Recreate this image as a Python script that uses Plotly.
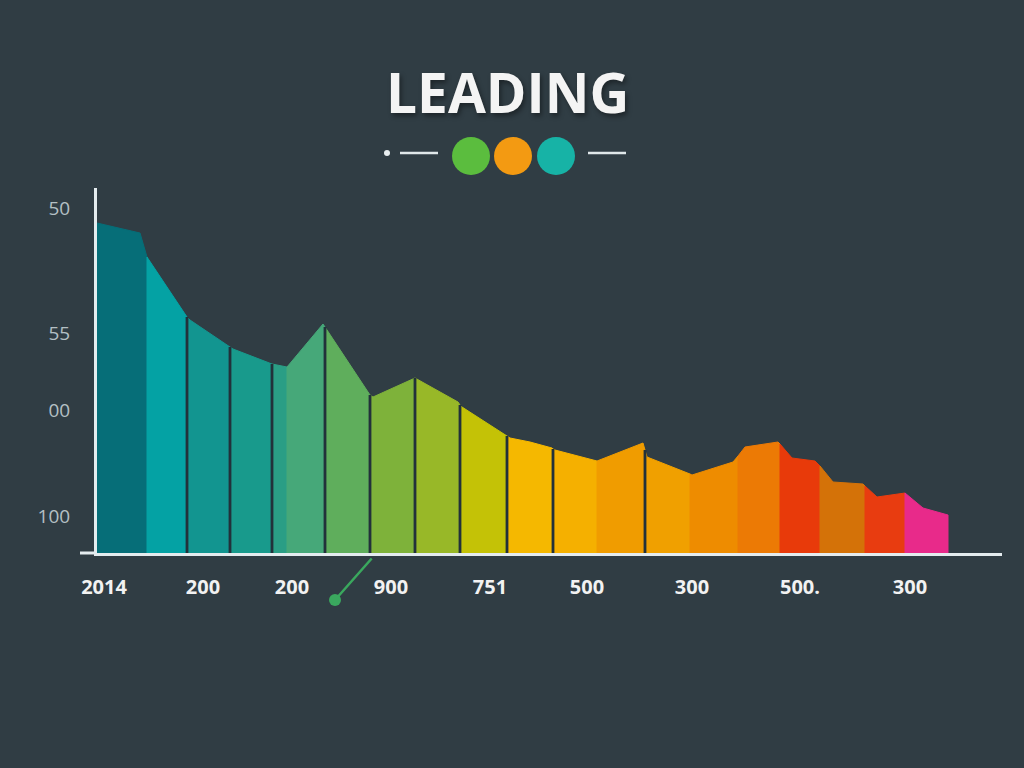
import plotly.graph_objects as go

# ---- data ----
PROFILE_X = [0, 43, 50, 90, 93, 131, 133, 136, 175, 190, 226, 228, 230, 273, 276, 318,
             361, 363, 365, 408, 410, 413, 433, 455, 456, 458, 500, 546, 548, 550, 593,
             595, 636, 641, 648, 681, 683, 695, 718, 723, 736, 766, 768, 780, 808, 826, 851]
PROFILE_Y = [330, 320, 296, 236, 233, 208, 206, 204, 189, 186, 229, 226, 223, 158, 156, 175,
             151, 148, 146, 118, 117, 115, 111, 105, 104, 103, 92, 110, 103, 96, 79,
             78, 91, 97, 106, 111, 109, 95, 92, 87, 71, 69, 67, 56, 60, 45, 38]

SEGMENT_EDGES = [0, 50, 90, 133, 175, 190, 228, 273, 318, 363, 410, 456, 500, 548,
                 593, 641, 683, 723, 768, 808, 851]
SEGMENT_COLORS = ["#066e78", "#04a2a4", "#129590", "#189a8c", "#2a9e85", "#46a879",
                  "#5fae5c", "#7eb23a", "#98b828", "#c4c206", "#f5b800", "#f5b000",
                  "#f09c00", "#f0a000", "#ee8c00", "#ec7a05", "#e83a0a", "#d47208",
                  "#e83c10", "#e82a8a"]
SEPARATOR_EDGES = [90, 133, 175, 228, 273, 318, 363, 410, 456, 548]

X_TICK_POS = [7, 106, 195, 294, 393, 490, 595, 703, 813]
X_TICK_TEXT = ["2014", "200", "200", "900", "751", "500", "300", "500.", "300"]
Y_TICK_POS = [345, 220, 143, 37]
Y_TICK_TEXT = ["50", "55", "00", "100"]

TITLE = "LEADING"
DOT_COLORS = ["#5bbd3e", "#f39a12", "#17b3a6"]
POINTER_X = 238

BG = "#303d44"
AXIS_COLOR = "#e4ecef"

fig = go.Figure()

# coloured area segments
for i, color in enumerate(SEGMENT_COLORS):
    a, b = SEGMENT_EDGES[i], SEGMENT_EDGES[i + 1]
    pts = [(x, y) for x, y in zip(PROFILE_X, PROFILE_Y) if a <= x <= b]
    xs = [a] + [p[0] for p in pts] + [b]
    ys = [0] + [p[1] for p in pts] + [0]
    fig.add_trace(go.Scatter(x=xs, y=ys, mode="lines", fill="toself",
                             fillcolor=color, line=dict(color=color, width=1),
                             hoverinfo="skip", showlegend=False))

# dark separators between some segments
for e in SEPARATOR_EDGES:
    yv = PROFILE_Y[PROFILE_X.index(e)]
    fig.add_trace(go.Scatter(x=[e, e], y=[0, yv], mode="lines",
                             line=dict(color="#22313a", width=2.8),
                             hoverinfo="skip", showlegend=False))

W, H = 1024, 768
ML, MR, MT, MB = 97, 22, 188, 215
PW, PH = W - ML - MR, H - MT - MB


def px(xp):
    return (xp - ML) / PW


def py(yp):
    return (H - MB - yp) / PH


shapes = []
# baseline extension to the left of the y axis
shapes.append(dict(type="line", xref="paper", yref="paper", x0=px(80), x1=0,
                   y0=0, y1=0, line=dict(color=AXIS_COLOR, width=3)))
# decoration under the title
shapes.append(dict(type="circle", xref="paper", yref="paper", xsizemode="pixel",
                   ysizemode="pixel", xanchor=px(387), yanchor=py(153),
                   x0=-3, x1=3, y0=-3, y1=3, fillcolor="#e8eef0", line=dict(width=0)))
shapes.append(dict(type="line", xref="paper", yref="paper", x0=px(400), x1=px(438),
                   y0=py(153), y1=py(153), line=dict(color="#e0e8ea", width=2.5)))
shapes.append(dict(type="line", xref="paper", yref="paper", x0=px(588), x1=px(626),
                   y0=py(153), y1=py(153), line=dict(color="#e0e8ea", width=2.5)))
for cx, c in zip([471, 513, 556], DOT_COLORS):
    shapes.append(dict(type="circle", xref="paper", yref="paper", xsizemode="pixel",
                       ysizemode="pixel", xanchor=px(cx), yanchor=py(156),
                       x0=-19, x1=19, y0=-19, y1=19, fillcolor=c, line=dict(width=0)))

annotations = [
    dict(text=TITLE, xref="paper", yref="paper", x=px(507), y=py(92),
         xanchor="center", yanchor="middle", showarrow=False,
         font=dict(family="Open Sans", size=55, color="#f4f4f4", weight=700,
                   shadow="2px 3px 5px rgba(0,0,0,0.4)")),
    dict(text="", xref="x", yref="paper", x=POINTER_X, y=py(600),
         axref="pixel", ayref="pixel", ax=38, ay=-43, showarrow=True,
         arrowhead=6, arrowsize=1.2, arrowwidth=2.5, arrowcolor="#3aa85e"),
]

fig.update_layout(
    width=W, height=H,
    margin=dict(l=ML, r=MR, t=MT, b=MB, pad=0),
    paper_bgcolor=BG, plot_bgcolor=BG,
    showlegend=False,
    shapes=shapes,
    annotations=annotations,
    xaxis=dict(range=[0, PW], showgrid=False, zeroline=False,
               showline=True, linecolor=AXIS_COLOR, linewidth=3,
               ticks="outside", ticklen=14, tickcolor="rgba(0,0,0,0)",
               tickvals=X_TICK_POS, ticktext=X_TICK_TEXT,
               tickfont=dict(family="Open Sans", size=20, color="#f2f2f2", weight=700),
               fixedrange=True),
    yaxis=dict(range=[0, PH], showgrid=False, zeroline=False,
               showline=True, linecolor=AXIS_COLOR, linewidth=3,
               ticks="outside", ticklen=20, tickcolor="rgba(0,0,0,0)",
               tickvals=Y_TICK_POS, ticktext=Y_TICK_TEXT,
               tickfont=dict(family="Open Sans", size=19, color="#b4c0c4"),
               fixedrange=True),
)

fig.write_html("out.html", config={"displayModeBar": False},
               post_script="document.body.style.margin='0';")
